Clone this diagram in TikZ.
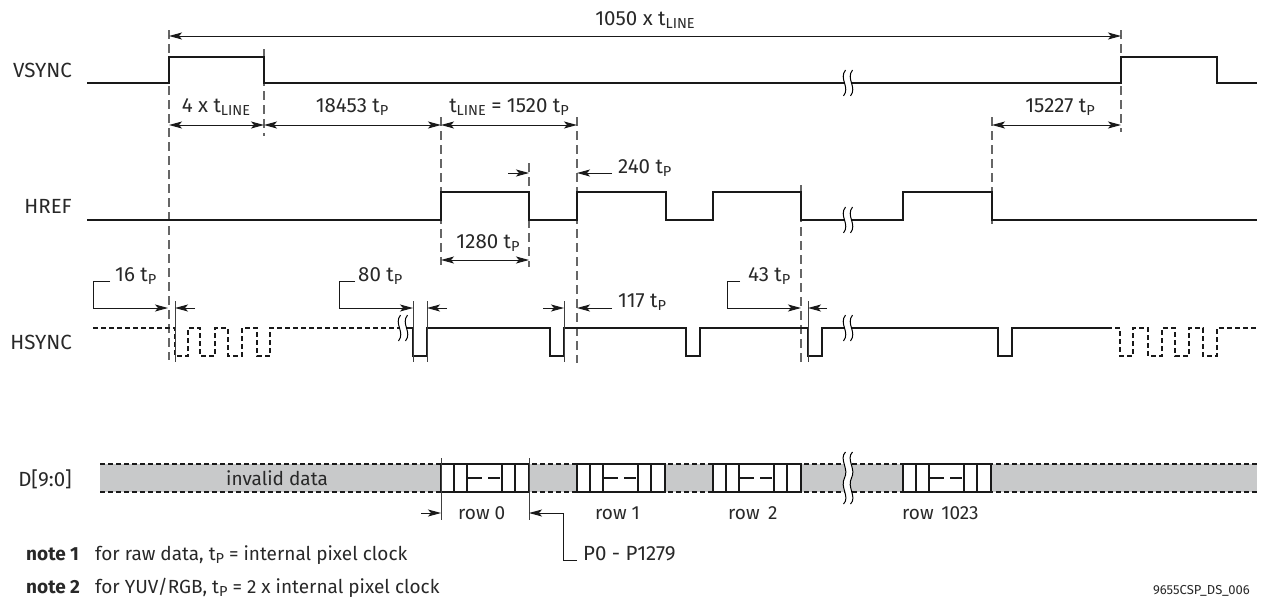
\documentclass[tikz,border=0pt]{standalone}
\usepackage{fontspec}
\setmainfont{Fira Sans}
\usetikzlibrary{arrows.meta}
\newcommand\mytsub[1]{\raisebox{-3pt}{\fontsize{14.5}{14.5}\selectfont #1}}
\newcommand\mytP{t\mytsub{P}}
\newcommand\mytL{t\mytsub{LINE}}
\definecolor{bandgray}{RGB}{200,201,202}
\definecolor{txt}{RGB}{40,40,40}
\tikzset{
  sig/.style={line width=2.4pt, draw=black!90, line join=miter},
  sigd/.style={line width=2pt, draw=black!90, dash pattern=on 5pt off 3pt},
  guide/.style={line width=1.1pt, draw=black!60, dash pattern=on 9pt off 5pt},
  dim/.style={line width=1pt, draw=black!90},
  da/.style={dim, -{Stealth[length=13pt,width=7pt,inset=3pt]}},
  dda/.style={dim, {Stealth[length=13pt,width=7pt,inset=3pt]}-{Stealth[length=13pt,width=7pt,inset=3pt]}},
  tickln/.style={line width=0.9pt, draw=black!75},
  lbl/.style={font=\fontsize{20.5}{24}\selectfont, text=txt, inner sep=0pt},
  lbls/.style={font=\fontsize{19}{22}\selectfont, text=txt, inner sep=0pt},
  brk/.pic={
    \fill[white] (-2.5,-13) .. controls (-9.5,-4) and (2.5,4) .. (-4.5,13) -- (2.5,13) .. controls (9.5,4) and (-2.5,-4) .. (4.5,-13) -- cycle;
    \draw[line width=1pt] (-2.5,-13) .. controls (-9.5,-4) and (2.5,4) .. (-4.5,13);
    \draw[line width=1pt] (4.5,-13) .. controls (-2.5,-4) and (9.5,4) .. (2.5,13);
  },
  brkT/.pic={
    \fill[white] (-2.5,-26) .. controls (-9.5,-19) and (1.5,-9) .. (-3.5,0) .. controls (-8.5,9) and (2.5,19) .. (-4.5,26)
      -- (2.5,26) .. controls (9.5,19) and (-1.5,9) .. (3.5,0) .. controls (8.5,-9) and (-2.5,-19) .. (4.5,-26) -- cycle;
    \draw[line width=1pt] (-2.5,-26) .. controls (-9.5,-19) and (1.5,-9) .. (-3.5,0) .. controls (-8.5,9) and (2.5,19) .. (-4.5,26);
    \draw[line width=1pt] (4.5,-26) .. controls (-2.5,-19) and (8.5,-9) .. (3.5,0) .. controls (-1.5,9) and (9.5,19) .. (2.5,26);
  },
  blk/.pic={
    \draw[line width=2pt, draw=black!90, fill=white] (0,-14) rectangle (88,14);
    \foreach \bx in {13,26,61,74} \draw[line width=2pt, draw=black!90] (\bx,-14) -- (\bx,14);
    \draw[line width=1.5pt, draw=black!90] (27,0) -- (41,0) (47,0) -- (59,0);
  }
}
\begin{document}
\begin{tikzpicture}[x=1pt,y=-1pt]
\useasboundingbox (0,0) rectangle (1263,603);
% data band
\fill[bandgray] (100,464) rectangle (1257,492);
\draw[sigd] (100,464) -- (1257,464);
\draw[sigd] (100,492) -- (1257,492);

% guide lines
\draw[guide] (169,30) -- (169,360);
\draw[guide] (264,49) -- (264,136);
\draw[guide] (441,117) -- (441,265);
\draw[guide] (577,117) -- (577,363);
\draw[guide] (529,163) -- (529,267);
\draw[guide] (801,185) -- (801,363);
\draw[guide] (992,117) -- (992,227);
\draw[guide] (1121,30) -- (1121,132);

% signal names
\node[lbl, anchor=base east] (nv) at (72,77) {VSYNC};
\node[lbl, anchor=base east] (nh) at (72,213) {HREF};
\node[lbl, anchor=base east] (ns) at (72,349) {HSYNC};
\node[lbl, anchor=base east] (nd) at (72,486) {D[9:0]};

% VSYNC
\draw[sig] (87,83) -- (169,83) -- (169,57) -- (264,57) -- (264,83) -- (1121,83) -- (1121,57) -- (1217,57) -- (1217,83) -- (1257,83);
\pic at (848,83) {brk};

% HREF
\draw[sig] (87,220) -- (441,220) -- (441,192) -- (529,192) -- (529,220) -- (577,220) -- (577,192) -- (666,192) -- (666,220) -- (713,220) -- (713,192) -- (801,192) -- (801,220) -- (903,220) -- (903,192) -- (992,192) -- (992,220) -- (1257,220);
\pic at (848,220) {brk};

% HSYNC
\draw[sigd] (93,328) -- (175,328) -- (175,356) -- (188,356) -- (188,328) -- (200,328) -- (200,356) -- (215,356) -- (215,328) -- (228,328) -- (228,356) -- (242,356) -- (242,328) -- (257,328) -- (257,356) -- (270,356) -- (270,328) -- (403,328);
\draw[sig] (403,328) -- (413,328) -- (413,356) -- (427,356) -- (427,328) -- (550,328) -- (550,356) -- (564,356) -- (564,328) -- (686,328) -- (686,356) -- (700,356) -- (700,328) -- (808,328) -- (808,356) -- (822,356) -- (822,328) -- (998,328) -- (998,356) -- (1012,356) -- (1012,328) -- (1107,328);
\draw[sigd] (1107,328) -- (1120,328) -- (1120,356) -- (1133,356) -- (1133,328) -- (1148,328) -- (1148,356) -- (1162,356) -- (1162,328) -- (1175,328) -- (1175,356) -- (1189,356) -- (1189,328) -- (1203,328) -- (1203,356) -- (1217,356) -- (1217,328) -- (1257,328);
\pic at (403,328) {brk};
\pic at (848,328) {brk};

% data blocks
\pic at (441,478) {blk};
\pic at (577,478) {blk};
\pic at (713,478) {blk};
\pic at (903,478) {blk};
\pic at (848,478) {brkT};
\node[lbls, anchor=base] (inv) at (277,485) {invalid data};

% top dimensions
\draw[dda] (169,36) -- (1121,36);
\node[lbl, anchor=base] (l1050) at (645,25) {1050 x \mytL};
\draw[dda] (169,125) -- (264,125);
\draw[dda] (264,125) -- (441,125);
\draw[dda] (441,125) -- (577,125);
\draw[dda] (992,125) -- (1121,125);
\node[lbl, anchor=base] (l4) at (216,112) {4 x \mytL};
\node[lbl, anchor=base] (l18453) at (352,112) {18453 \mytP};
\node[lbl, anchor=base] (l1520) at (509,112) {\mytL{} = 1520 \mytP};
\node[lbl, anchor=base] (l15227) at (1060,112) {15227 \mytP};

% HREF dimensions
\draw[da] (612,173) -- (577,173);
\node[lbl, anchor=base west] (l240) at (618,173) {240 \mytP};
\draw[da] (508,173) -- (529,173);
\draw[dda] (441,260) -- (529,260);
\node[lbl, anchor=base] (l1280) at (488,248) {1280 \mytP};

% HSYNC dimensions
\foreach \tx in {175,413,427,564,808} \draw[tickln] (\tx,301) -- (\tx,362);
\draw[da] (110,281) -- (93,281) -- (93,308) -- (168,308);
\node[lbl, anchor=base west] (l16) at (115,281) {16 \mytP};
\draw[da] (195,308) -- (175,308);
\draw[da] (355,281) -- (339,281) -- (339,308) -- (413,308);
\node[lbl, anchor=base west] (l80) at (358,281) {80 \mytP};
\draw[da] (447,308) -- (427,308);
\draw[da] (543,308) -- (564,308);
\draw[da] (612,308) -- (577,308);
\node[lbl, anchor=base west] (l117) at (618,307) {117 \mytP};
\draw[da] (740,281) -- (727,281) -- (727,308) -- (801,308);
\node[lbl, anchor=base west] (l43) at (748,281) {43 \mytP};
\draw[da] (827,308) -- (808,308);

% data dimensions
\draw[tickln] (441,458) -- (441,520);
\draw[tickln] (529,458) -- (529,520);
\draw[da] (421,513) -- (441,513);
\draw[da] (577,560) -- (563,560) -- (563,513) -- (529,513);
\node[lbl, anchor=base west] (lp) at (583,560) {P0 - P1279};
\node[lbls, anchor=base west] (r0) at (458,519) {row 0};
\node[lbls, anchor=base west] (r1) at (595,519) {row 1};
\node[lbls, anchor=base west] (r2) at (728,519) {row\hspace{0.45em}2};
\node[lbls, anchor=base west] (r3) at (902,519) {row\hspace{0.4em}1023};

% notes
\node[lbls, anchor=base west] (n1) at (26,560) {\bfseries note 1};
\node[lbls, anchor=base west] (n1t) at (95,560) {for raw data, \mytP{} = internal pixel clock};
\node[lbls, anchor=base west] (n2) at (26,593) {\bfseries note 2};
\node[lbls, anchor=base west] (n2t) at (95,593) {for YUV/RGB, \mytP{} = 2 x internal pixel clock};
\node[font=\fontsize{13}{15}\selectfont, text=txt, inner sep=0pt, anchor=base east] (foot) at (1250,594) {9655CSP\_DS\_006};
\end{tikzpicture}
\end{document}
